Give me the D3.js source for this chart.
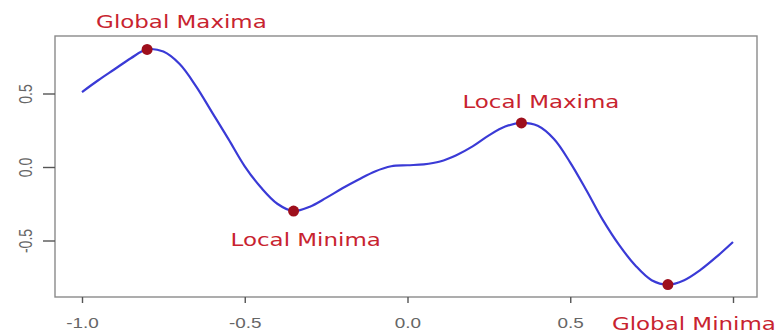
<!DOCTYPE html>
<html>
<head>
<meta charset="utf-8">
<script src="https://cdn.jsdelivr.net/npm/d3@7"></script>
<style>
  html, body { margin: 0; padding: 0; background: #ffffff; }
  svg { display: block; }
</style>
</head>
<body>
<script>
// ---- data ----
const curveX = [-1.0, -0.95, -0.9, -0.85, -0.8, -0.75, -0.7, -0.65, -0.6, -0.55, -0.5, -0.45, -0.4, -0.35, -0.3, -0.25, -0.2, -0.15, -0.1, -0.05, 0.0, 0.05, 0.1, 0.15, 0.2, 0.25, 0.3, 0.35, 0.4, 0.45, 0.5, 0.55, 0.6, 0.65, 0.7, 0.75, 0.8, 0.85, 0.9, 0.95, 1.0];
const curveY = [0.51, 0.59, 0.665, 0.74, 0.80, 0.785, 0.70, 0.55, 0.37, 0.19, 0.005, -0.14, -0.25, -0.30, -0.27, -0.21, -0.145, -0.085, -0.03, 0.005, 0.012, 0.018, 0.037, 0.08, 0.14, 0.215, 0.275, 0.30, 0.28, 0.19, 0.03, -0.16, -0.36, -0.53, -0.67, -0.77, -0.80, -0.77, -0.70, -0.61, -0.51];
const extremaX = [-0.8, -0.35, 0.35, 0.8];
const extremaY = [0.8, -0.3, 0.3, -0.8];
const extremaLabels = ["Global Maxima", "Local Minima", "Local Maxima", "Global Minima"];
const xTicks = [-1.0, -0.5, 0.0, 0.5, 1.0];
const xTickLabels = ["-1.0", "-0.5", "0.0", "0.5", ""]; // "1.0" is hidden under "Global Minima" in the reference
const yTicks = [-0.5, 0.0, 0.5];
const yTickLabels = ["-0.5", "0.0", "0.5"];

// ---- layout ----
const W = 782, H = 336;
const box = { left: 55, right: 757, top: 36, bottom: 297 };
const stretch = 1.35;
// label offsets from their point (dx to text start, dy to baseline)
const labelOffsets = [[-51, -21], [-63, 35], [-59, -15], [-56, 45]];

const x = d3.scaleLinear().domain([-1, 1]).range([82, 733]);
const y = d3.scaleLinear().domain([-0.5, 0.5]).range([240.5, 93.5]);

const svg = d3.select("body").append("svg").attr("width", W).attr("height", H);

// plot box
svg.append("rect")
  .attr("x", box.left).attr("y", box.top)
  .attr("width", box.right - box.left).attr("height", box.bottom - box.top)
  .attr("fill", "none").attr("stroke", "#8a8a8a").attr("stroke-width", 1.4);

// x axis
const xAxis = svg.append("g")
  .attr("transform", `translate(0,${box.bottom})`)
  .call(d3.axisBottom(x).tickValues(xTicks).tickSize(6).tickFormat((d, i) => xTickLabels[i]));
xAxis.select(".domain").remove();
xAxis.selectAll(".tick line").attr("stroke", "#555").attr("stroke-width", 1.4);
xAxis.selectAll(".tick text")
  .attr("y", 0).attr("dy", 0)
  .attr("transform", `translate(0,31) scale(${stretch},1)`)
  .attr("fill", "#666").attr("font-size", 14)
  .attr("font-family", "Liberation Sans, Arial, sans-serif")
  .attr("text-anchor", "middle");

// y axis
const yAxis = svg.append("g")
  .attr("transform", `translate(${box.left},0)`)
  .call(d3.axisLeft(y).tickValues(yTicks).tickSize(12).tickFormat((d, i) => yTickLabels[i]));
yAxis.select(".domain").remove();
yAxis.selectAll(".tick line").attr("stroke", "#555").attr("stroke-width", 1.4);
yAxis.selectAll(".tick text")
  .attr("x", 0).attr("y", 0).attr("dy", 0)
  .attr("transform", `translate(-23.5,0) scale(${stretch},1) rotate(-90)`)
  .attr("fill", "#666").attr("font-size", 14)
  .attr("font-family", "Liberation Sans, Arial, sans-serif")
  .attr("text-anchor", "middle");

// curve
const pts = curveX.map((v, i) => [v, curveY[i]]);
svg.append("path")
  .datum(pts)
  .attr("fill", "none")
  .attr("stroke", "#3a3ad6")
  .attr("stroke-width", 2.2)
  .attr("stroke-linejoin", "round")
  .attr("d", d3.line().x(d => x(d[0])).y(d => y(d[1])).curve(d3.curveCatmullRom.alpha(0.5)));

// extrema points
const ext = extremaX.map((v, i) => ({ x: v, y: extremaY[i], label: extremaLabels[i], off: labelOffsets[i] }));
svg.selectAll("circle.ext").data(ext).enter().append("circle")
  .attr("class", "ext")
  .attr("cx", d => x(d.x)).attr("cy", d => y(d.y))
  .attr("r", 5.5)
  .attr("fill", "#9e0f1c");

// labels
svg.selectAll("text.lab").data(ext).enter().append("text")
  .attr("class", "lab")
  .attr("transform", d => `translate(${x(d.x) + d.off[0]},${y(d.y) + d.off[1]}) scale(${stretch},1)`)
  .attr("font-family", "DejaVu Sans, Verdana, sans-serif")
  .attr("font-size", 17)
  .attr("fill", "#c8232f")
  .attr("text-anchor", "start")
  .text(d => d.label);
</script>
</body>
</html>
